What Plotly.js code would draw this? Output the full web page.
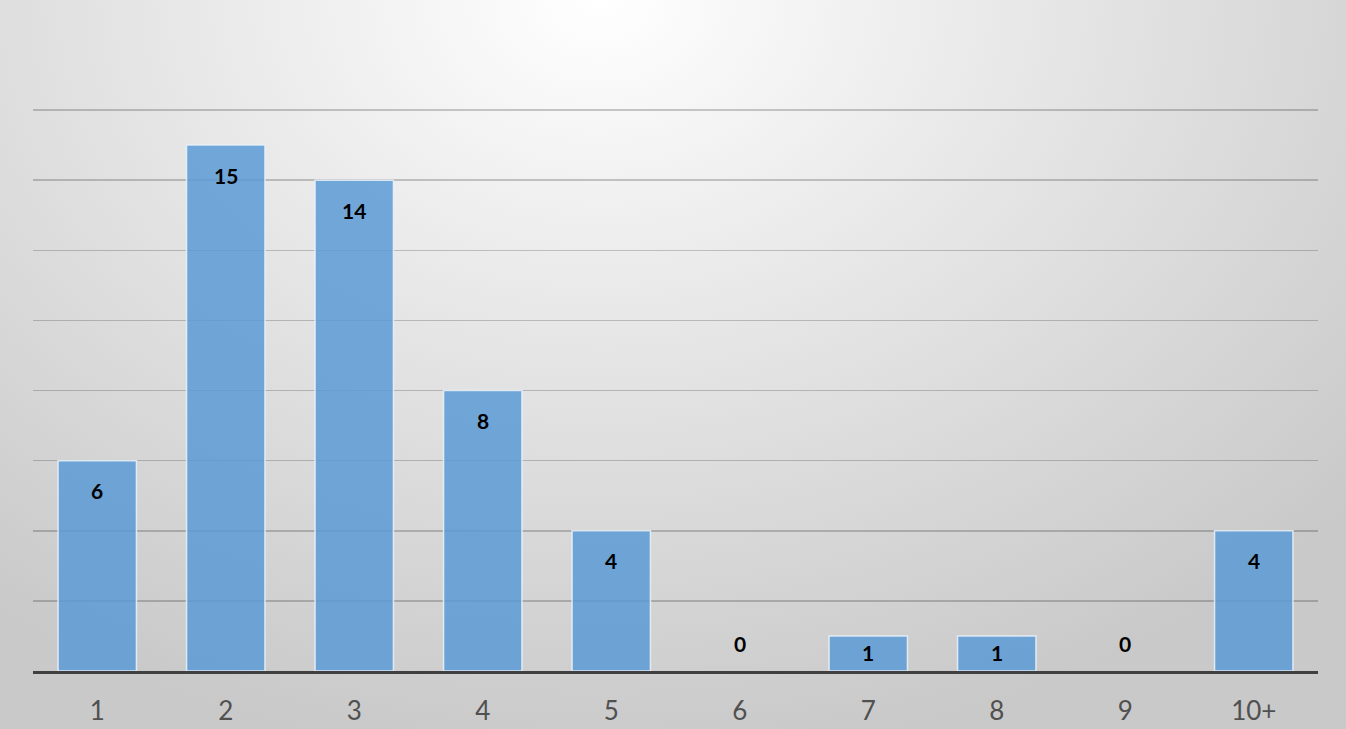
<!DOCTYPE html>
<html>
<head>
<meta charset="utf-8">
<script src="https://cdn.plot.ly/plotly-3.0.1.min.js"></script>
<style>
  html, body { margin: 0; padding: 0; width: 1346px; height: 729px; overflow: hidden; }
  body { background: radial-gradient(ellipse 1000px 760px at 600px 0px, #ffffff 0%, #e6e6e6 45%, #d6d6d6 75%, #c9c9c9 100%); }
  #chart { width: 1346px; height: 729px; }
</style>
</head>
<body>
<div id="chart"></div>
<script>
const categories = ["1", "2", "3", "4", "5", "6", "7", "8", "9", "10+"];
const counts = [6, 15, 14, 8, 4, 0, 1, 1, 0, 4];

const labelFont = { family: "Lato, 'Open Sans', sans-serif", size: 21, color: "#000000", weight: 700 };

const annotations = categories.map((c, i) => {
  const v = counts[i];
  const shift = v === 0 ? 28 : -Math.min(30, v * 17);
  return {
    x: i, y: v, xref: "x", yref: "y",
    text: "<b>" + v + "</b>", showarrow: false,
    yshift: shift, yanchor: "middle", font: labelFont
  };
});

const trace = {
  type: "bar",
  x: categories,
  y: counts,
  marker: {
    color: "rgba(91,155,213,0.85)",
    line: { color: "rgba(235,242,250,0.85)", width: counts.map(v => v > 0 ? 1.5 : 0) }
  },
  hoverinfo: "none"
};

const layout = {
  width: 1346, height: 729,
  margin: { l: 33, r: 28, t: 109, b: 58 },
  paper_bgcolor: "rgba(0,0,0,0)",
  plot_bgcolor: "rgba(0,0,0,0)",
  bargap: 0.39,
  showlegend: false,
  xaxis: {
    type: "category",
    showgrid: false,
    showline: true, linecolor: "#404040", linewidth: 3,
    ticks: "", ticklen: 0,
    ticklabelstandoff: 15,
    tickfont: { family: "Lato, 'Open Sans', sans-serif", size: 26, color: "#505050" },
    zeroline: false
  },
  yaxis: {
    range: [0, 16.03],
    dtick: 2,
    showticklabels: false,
    showgrid: true, gridcolor: "rgba(0,0,0,0.2)", gridwidth: 1.5,
    zeroline: false, showline: false, ticks: ""
  },
  annotations: annotations
};

Plotly.newPlot("chart", [trace], layout, { displayModeBar: false, staticPlot: true });
</script>
</body>
</html>
